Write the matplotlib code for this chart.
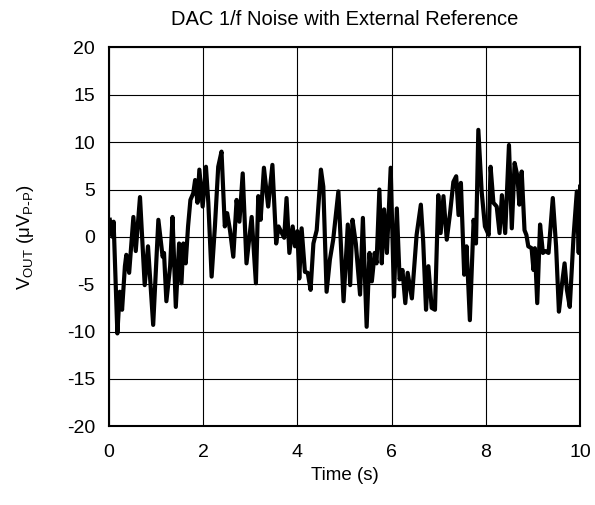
import matplotlib
matplotlib.use('Agg')
import matplotlib.pyplot as plt

plt.rcParams['font.family'] = ['Liberation Sans', 'DejaVu Sans']
plt.rcParams['axes.unicode_minus'] = False

# 1/f noise trace, time (s) vs output (uV p-p)
time_s = [0.02, 0.08, 0.10, 0.18, 0.23, 0.28, 0.34, 0.37, 0.43, 0.52, 0.57, 0.66,
          0.76, 0.83, 0.94, 1.05, 1.14, 1.17, 1.22, 1.30, 1.35, 1.42, 1.49, 1.54,
          1.58, 1.63, 1.68, 1.73, 1.79, 1.83, 1.88, 1.92, 1.99, 2.06, 2.11, 2.18,
          2.25, 2.32, 2.39, 2.46, 2.51, 2.57, 2.64, 2.71, 2.77, 2.84, 2.92, 3.03,
          3.12, 3.17, 3.22, 3.29, 3.38, 3.47, 3.55, 3.60, 3.67, 3.72, 3.77, 3.83,
          3.90, 3.95, 4.00, 4.04, 4.09, 4.16, 4.22, 4.28, 4.34, 4.41, 4.50, 4.55,
          4.62, 4.69, 4.76, 4.87, 4.98, 5.07, 5.12, 5.17, 5.24, 5.33, 5.39, 5.47,
          5.53, 5.58, 5.64, 5.68, 5.74, 5.79, 5.84, 5.90, 5.98, 6.05, 6.11, 6.17,
          6.23, 6.29, 6.34, 6.43, 6.53, 6.62, 6.67, 6.73, 6.78, 6.85, 6.92, 6.99,
          7.04, 7.10, 7.17, 7.24, 7.31, 7.37, 7.42, 7.47, 7.54, 7.59, 7.66, 7.74,
          7.79, 7.84, 7.91, 7.98, 8.06, 8.10, 8.16, 8.23, 8.29, 8.34, 8.41, 8.49,
          8.55, 8.61, 8.67, 8.71, 8.76, 8.82, 8.86, 8.90, 8.97, 9.01, 9.04, 9.09,
          9.15, 9.21, 9.26, 9.33, 9.42, 9.49, 9.55, 9.61, 9.67, 9.72, 9.78, 9.86,
          9.93, 9.97, 10.0]
vout_uv = [1.8, 0.0, 1.6, -10.2, -5.8, -7.7, -3.1, -1.9, -3.8, 2.1, -1.5, 4.2,
           -5.1, -1.0, -9.3, 1.8, -2.1, -1.7, -6.8, -3.1, 2.1, -7.4, -0.7, -4.9,
           -0.7, -2.8, 1.1, 3.9, 4.6, 6.0, 3.6, 7.1, 3.2, 7.4, 3.6, -4.2,
           1.1, 7.4, 9.0, 1.1, 2.5, 0.7, -2.1, 3.9, 1.6, 6.7, -2.8, 2.1,
           -4.9, 4.3, 1.8, 7.3, 3.2, 7.6, -0.7, 1.1, 0.4, -0.1, 4.1, -1.7,
           1.1, -1.0, 0.6, -4.4, 0.9, -3.7, -3.8, -5.6, -0.7, 0.7, 7.1, 5.3,
           -5.8, -2.4, -0.3, 4.8, -6.8, 1.3, -5.1, 1.8, -0.7, -6.1, 2.0, -9.5,
           -1.7, -4.7, -1.7, -2.8, 5.0, -2.8, 2.9, -1.7, 7.3, -6.3, 3.0, -4.5,
           -3.5, -7.0, -3.8, -6.5, 0.2, 3.4, -0.5, -7.7, -3.1, -7.5, -7.7, 4.4,
           0.4, 4.3, -0.3, 2.5, 5.8, 6.4, 2.3, 5.7, -4.0, -1.0, -8.8, 1.8,
           -0.7, 11.3, 4.8, 1.1, 0.2, 7.4, 3.6, 3.2, 0.4, 4.4, 0.4, 9.7,
           0.9, 7.8, 6.4, 3.4, 6.9, 0.7, 0.2, -1.0, -1.2, -3.5, -1.2, -7.0,
           1.3, -1.7, -1.5, -1.7, 4.1, -1.0, -7.9, -5.2, -2.8, -5.6, -7.4, 0.0,
           4.8, -1.7, 5.3]

x_ticks = [0, 2, 4, 6, 8, 10]
y_ticks = [-20, -15, -10, -5, 0, 5, 10, 15, 20]

fig = plt.figure(figsize=(5.95, 5.05), dpi=100)
ax = fig.add_axes([0.183, 0.156, 0.792, 0.750])

ax.plot(time_s, vout_uv, color='black', linewidth=3.0, solid_joinstyle='round')

ax.set_xlim(0, 10)
ax.set_ylim(-20, 20)
ax.set_xticks(x_ticks)
ax.set_yticks(y_ticks)
ax.grid(True, color='black', linewidth=0.8)
ax.tick_params(length=0, labelsize=14)
ax.tick_params(axis='x', pad=13)
ax.tick_params(axis='y', pad=10)
for s in ax.spines.values():
    s.set_linewidth(1.5)

ax.set_title('DAC 1/f Noise with External Reference', fontsize=14.5, pad=16)
ax.set_xlabel('Time (s)', fontsize=13.5, labelpad=4)
ax.set_ylabel(r'V$_{\mathregular{OUT}}$ ($\mathregular{\mu}$V$_{\mathregular{P\text{-}P}}$)',
              fontsize=13.5, labelpad=22)

fig.savefig('out.png', dpi=100)
